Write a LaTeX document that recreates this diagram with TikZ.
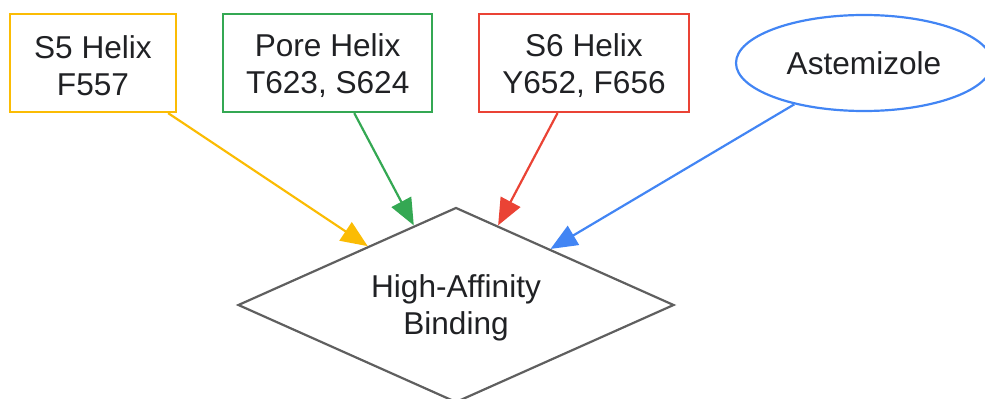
\documentclass[tikz,border=0pt]{standalone}
\usepackage{fontspec}
\setmainfont{Liberation Sans}
\usetikzlibrary{shapes.geometric,arrows.meta}
\definecolor{cyel}{HTML}{FBBC04}
\definecolor{cgrn}{HTML}{34A853}
\definecolor{cred}{HTML}{EA4335}
\definecolor{cblu}{HTML}{4285F4}
\definecolor{cgry}{HTML}{5F5F5F}
\definecolor{ctxt}{HTML}{202124}
\newcommand{\lift}{\rule{0pt}{21pt}}
\tikzset{
  lbl/.style={font=\fontsize{23.7pt}{27.75pt}\selectfont, text=ctxt, align=center, inner sep=0pt},
  site/.style={lbl, draw, line width=1.65pt, rectangle, minimum height=73.5pt},
  drug/.style={lbl, draw=cblu, line width=1.65pt, ellipse, minimum width=192pt, minimum height=72pt},
  goal/.style={lbl, draw=cgry, line width=1.65pt, diamond, minimum width=327pt, minimum height=146.25pt, shape aspect=2.236},
  link/.style={line width=1.65pt, -{Triangle[length=20pt,width=16.5pt]}}
}
\begin{document}
\begin{tikzpicture}[x=0.75pt,y=-0.75pt]
\useasboundingbox (0,0) rectangle (985,399);
\clip (0,0) rectangle (985,399);
\node[site, draw=cyel, minimum width=124.5pt] (s5) at (93,63) {\lift S5 Helix\\F557};
\node[site, draw=cgrn, minimum width=156.75pt] (pore) at (327.7,63) {\lift Pore Helix\\T623, S624};
\node[site, draw=cred, minimum width=157.5pt] (s6) at (584,63) {\lift S6 Helix\\Y652, F656};
\node[drug] (ast) at (864,63) {Astemizole};
\node[goal] (hab) at (456,305) {\lift High-Affinity\\Binding};
\draw[link, cyel] (s5) -- (hab);
\draw[link, cgrn] (pore) -- (hab);
\draw[link, cred] (s6) -- (hab);
\draw[link, cblu] (ast) -- (hab);
\end{tikzpicture}
\end{document}
